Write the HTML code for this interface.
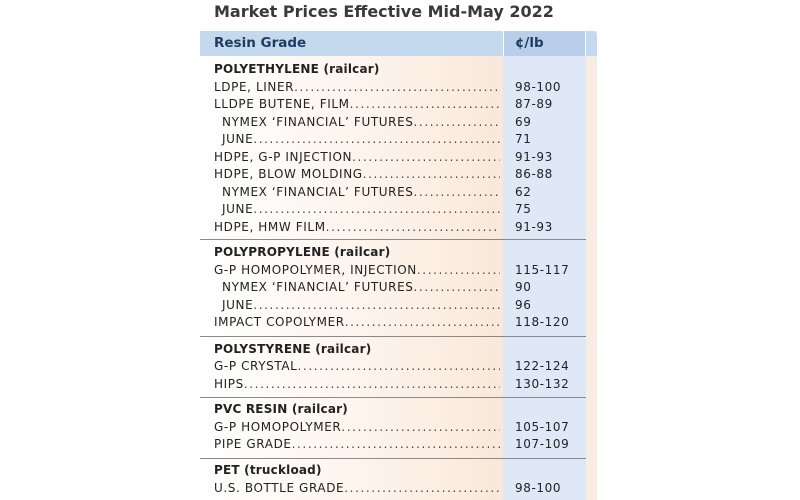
<!DOCTYPE html>
<html><head><meta charset="utf-8"><style>
body{margin:0;width:800px;height:500px;background:#fff;position:relative;overflow:hidden;font-family:"DejaVu Sans","Liberation Sans",sans-serif;}
#title{position:absolute;left:214px;top:2px;font-size:16px;font-weight:bold;color:#3a3a3a;}
#bgleft{position:absolute;left:200px;top:31px;width:303px;height:469px;background:linear-gradient(90deg,#ffffff 0%,#fdf5ee 50%,#fae8d9 100%);}
#bgval{position:absolute;left:503px;top:31px;width:83px;height:469px;background:#dfe8f6;}
#bgstrip{position:absolute;left:586px;top:31px;width:11px;height:469px;background:#f8ece3;}
#hdr{position:absolute;left:200px;top:31px;width:397px;height:25px;background:#c4d8ee;border-radius:0 4px 0 0;}
#hdrv{position:absolute;left:503px;top:31px;width:83px;height:25px;background:#b9cfe9;border-left:1px solid #fff;border-right:1px solid #fff;box-sizing:border-box;}
.h{position:absolute;top:35px;font-size:13.5px;font-weight:bold;color:#1f3d63;}
.row{position:absolute;left:214px;width:372px;height:17px;font-size:12px;color:#222;letter-spacing:0.6px;display:flex;white-space:nowrap;}
.row .l{flex:0 0 auto;}
.row .d{flex:1 1 auto;overflow:hidden;margin-right:15px;letter-spacing:1.6px;color:#444;}
.row .v{flex:0 0 71px;}
.sec{font-weight:bold;letter-spacing:0.2px;}
.ind{left:222px;width:364px;}
.sep{position:absolute;left:200px;width:386px;height:1px;background:#8a8a8a;}
</style></head><body>
<div id="title">Market Prices Effective Mid-May 2022</div>
<div id="bgleft"></div>
<div id="bgval"></div>
<div id="bgstrip"></div>
<div id="hdr"></div>
<div id="hdrv"></div>
<div class="h" style="left:214px">Resin Grade</div>
<div class="h" style="left:515px">¢/lb</div>
<div id="rows"></div>
<script>
const rows=[
["s","POLYETHYLENE (railcar)",62],
["r","LDPE, LINER","98-100",80],
["r","LLDPE BUTENE, FILM","87-89",97],
["i","NYMEX ‘FINANCIAL’ FUTURES","69",115],
["i","JUNE","71",132],
["r","HDPE, G-P INJECTION","91-93",150],
["r","HDPE, BLOW MOLDING","86-88",167],
["i","NYMEX ‘FINANCIAL’ FUTURES","62",185],
["i","JUNE","75",202],
["r","HDPE, HMW FILM","91-93",220],
["line",239],
["s","POLYPROPYLENE (railcar)",245],
["r","G-P HOMOPOLYMER, INJECTION","115-117",263],
["i","NYMEX ‘FINANCIAL’ FUTURES","90",280],
["i","JUNE","96",298],
["r","IMPACT COPOLYMER","118-120",315],
["line",336],
["s","POLYSTYRENE (railcar)",342],
["r","G-P CRYSTAL","122-124",359],
["r","HIPS","130-132",377],
["line",397],
["s","PVC RESIN (railcar)",402],
["r","G-P HOMOPOLYMER","105-107",420],
["r","PIPE GRADE","107-109",437],
["line",458],
["s","PET (truckload)",463],
["r","U.S. BOTTLE GRADE","98-100",481]
];
const c=document.getElementById('rows');
const dots='.'.repeat(90);
rows.forEach(r=>{
  const el=document.createElement('div');
  if(r[0]==='line'){el.className='sep';el.style.top=r[1]+'px';
    
    
  }else if(r[0]==='s'){el.className='row sec';el.style.top=r[2]+'px';el.textContent=r[1];
    
    
  }else{
    el.className='row'+(r[0]==='i'?' ind':'');el.style.top=r[3]+'px';
    el.innerHTML='<span class="l"></span><span class="d"></span><span class="v"></span>';
    el.children[0].textContent=r[1]+' ';el.children[1].textContent=dots;el.children[2].textContent=r[2];
    
    
  }
  c.appendChild(el);
});
</script>
</body></html>
